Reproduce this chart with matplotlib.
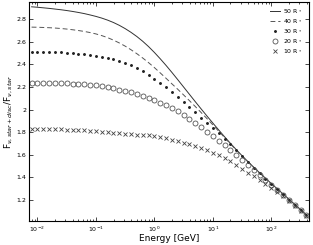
import numpy as np
import matplotlib
matplotlib.use('Agg')
import matplotlib.pyplot as plt
from matplotlib.ticker import FuncFormatter, LogLocator, NullFormatter

# energy grid (log10 of GeV), 0.1 decade steps
log_energy = [-2.1, -2.0, -1.9, -1.8, -1.7, -1.6, -1.5, -1.4, -1.3, -1.2,
              -1.1, -1.0, -0.9, -0.8, -0.7, -0.6, -0.5, -0.4, -0.3, -0.2,
              -0.1, 0.0, 0.1, 0.2, 0.3, 0.4, 0.5, 0.6, 0.7, 0.8,
              0.9, 1.0, 1.1, 1.2, 1.3, 1.4, 1.5, 1.6, 1.7, 1.8,
              1.9, 2.0, 2.1, 2.2, 2.3, 2.4, 2.5, 2.6]

# flux ratio F_star+disc / F_star for each disc radius
ratio_50 = [2.910, 2.906, 2.901, 2.896, 2.890, 2.884, 2.877, 2.869, 2.860, 2.850,
            2.838, 2.825, 2.810, 2.792, 2.771, 2.746, 2.717, 2.684, 2.647, 2.605,
            2.558, 2.506, 2.450, 2.391, 2.329, 2.265, 2.200, 2.135, 2.070, 2.006,
            1.943, 1.881, 1.820, 1.760, 1.702, 1.646, 1.592, 1.540, 1.490, 1.441,
            1.393, 1.346, 1.300, 1.254, 1.208, 1.162, 1.116, 1.070]
ratio_40 = [2.730, 2.729, 2.727, 2.725, 2.722, 2.718, 2.713, 2.707, 2.700, 2.692,
            2.682, 2.670, 2.655, 2.637, 2.615, 2.590, 2.562, 2.530, 2.495, 2.457,
            2.416, 2.372, 2.325, 2.277, 2.228, 2.180, 2.130, 2.079, 2.027, 1.974,
            1.920, 1.865, 1.809, 1.753, 1.697, 1.642, 1.589, 1.537, 1.487, 1.438,
            1.390, 1.343, 1.297, 1.251, 1.205, 1.159, 1.113, 1.067]
ratio_30 = [2.512, 2.512, 2.511, 2.510, 2.508, 2.506, 2.503, 2.500, 2.496, 2.491,
            2.485, 2.478, 2.469, 2.458, 2.445, 2.430, 2.412, 2.391, 2.366, 2.338,
            2.307, 2.275, 2.240, 2.200, 2.160, 2.115, 2.070, 2.025, 1.977, 1.930,
            1.885, 1.840, 1.793, 1.744, 1.693, 1.641, 1.588, 1.536, 1.485, 1.436,
            1.388, 1.341, 1.295, 1.249, 1.203, 1.157, 1.111, 1.065]
ratio_20 = [2.236, 2.236, 2.235, 2.235, 2.234, 2.233, 2.232, 2.230, 2.228, 2.225,
            2.221, 2.216, 2.208, 2.200, 2.190, 2.177, 2.165, 2.152, 2.138, 2.122,
            2.103, 2.085, 2.063, 2.040, 2.015, 1.988, 1.955, 1.920, 1.885, 1.846,
            1.806, 1.766, 1.726, 1.685, 1.643, 1.600, 1.556, 1.511, 1.466, 1.421,
            1.377, 1.333, 1.289, 1.245, 1.201, 1.156, 1.111, 1.066]
ratio_10 = [1.828, 1.828, 1.827, 1.827, 1.826, 1.825, 1.824, 1.822, 1.820, 1.817,
            1.814, 1.810, 1.806, 1.801, 1.796, 1.791, 1.786, 1.781, 1.777, 1.774,
            1.771, 1.767, 1.760, 1.748, 1.735, 1.722, 1.708, 1.694, 1.677, 1.658,
            1.640, 1.620, 1.598, 1.575, 1.546, 1.510, 1.476, 1.443, 1.410, 1.376,
            1.343, 1.308, 1.270, 1.232, 1.190, 1.148, 1.106, 1.062]

labels = [r'50 R$_*$', r'40 R$_*$', r'30 R$_*$', r'20 R$_*$', r'10 R$_*$']

energy = 10 ** np.array(log_energy)

fig = plt.figure(figsize=(3.13, 2.45), dpi=100)
ax = fig.add_axes([0.093, 0.096, 0.894, 0.897])

ax.plot(energy, ratio_50, '-', color='#333333', lw=0.7, label=labels[0])
ax.plot(energy, ratio_40, '--', color='#555555', lw=0.7, dashes=(5, 3), label=labels[1])
ax.plot(energy, ratio_30, '.', color='#222222', ms=2.2, label=labels[2])
ax.plot(energy, ratio_20, 'o', mfc='none', mec='#555555', mew=0.6, ms=3.6, label=labels[3])
ax.plot(energy, ratio_10, 'x', color='#444444', mew=0.6, ms=2.6, label=labels[4])

ax.set_xscale('log')
ax.set_xlim(0.0072, 440)
ax.set_ylim(1.01, 2.955)
ax.set_yticks([1.2, 1.4, 1.6, 1.8, 2.0, 2.2, 2.4, 2.6, 2.8])
ax.yaxis.set_major_formatter(FuncFormatter(lambda v, p: '%g' % v))
ax.xaxis.set_major_locator(LogLocator(base=10, numticks=10))
ax.xaxis.set_minor_locator(LogLocator(base=10, subs=np.arange(2, 10), numticks=20))
ax.xaxis.set_minor_formatter(NullFormatter())

ax.tick_params(which='both', direction='in', top=True, right=True, labelsize=4.5,
               width=0.5, pad=2)
ax.tick_params(which='major', length=3)
ax.tick_params(which='minor', length=1.5)
for s in ax.spines.values():
    s.set_linewidth(0.8)

ax.set_xlabel('Energy [GeV]', fontsize=6.5, labelpad=0.5)
ax.set_ylabel(r'F$_{\nu,star+disc}$/F$_{\nu,star}$', fontsize=6.5, labelpad=1)

ax.legend(loc='upper right', frameon=False, fontsize=4.5, handlelength=1.6,
          handletextpad=0.6, labelspacing=0.45, borderaxespad=0.6)

fig.savefig('out.png', dpi=100)
